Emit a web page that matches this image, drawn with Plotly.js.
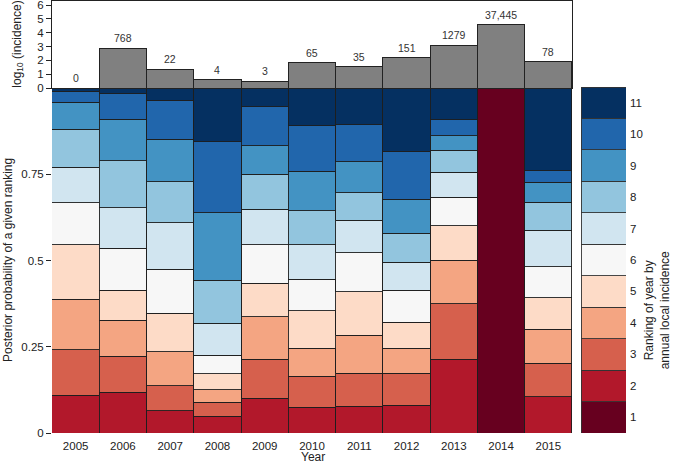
<!DOCTYPE html>
<html>
<head>
<meta charset="utf-8">
<script src="https://cdn.plot.ly/plotly-3.0.1.min.js"></script>
<style>html,body{margin:0;padding:0;background:#fff;}#chart{width:677px;height:464px;}</style>
</head>
<body>
<div id="chart"></div>
<script>
const years = ['2005','2006','2007','2008','2009','2010','2011','2012','2013','2014','2015'];
const incidence = [0, 768, 22, 4, 3, 65, 35, 151, 1279, 37445, 78];
const incidenceLabels = ['0','768','22','4','3','65','35','151','1279','37,445','78'];
const ranks = [1,2,3,4,5,6,7,8,9,10,11];
const rankColors = ['#67001f','#b2182b','#d6604d','#f4a582','#fddbc7','#f7f7f7','#d1e5f0','#92c5de','#4393c3','#2166ac','#053061'];

// posterior probability of each ranking, per year (2005..2015)
const rank1  = [0, 0, 0, 0, 0, 0, 0, 0, 0, 1, 0];
const rank2  = [0.110, 0.118, 0.065, 0.049, 0.101, 0.074, 0.078, 0.081, 0.214, 0, 0.105];
const rank3  = [0.131, 0.105, 0.072, 0.040, 0.113, 0.090, 0.095, 0.092, 0.161, 0, 0.097];
const rank4  = [0.147, 0.104, 0.098, 0.037, 0.123, 0.081, 0.111, 0.072, 0.126, 0, 0.099];
const rank5  = [0.157, 0.087, 0.112, 0.046, 0.097, 0.110, 0.125, 0.076, 0.100, 0, 0.091];
const rank6  = [0.122, 0.121, 0.128, 0.054, 0.111, 0.091, 0.114, 0.093, 0.082, 0, 0.090];
const rank7  = [0.104, 0.118, 0.134, 0.092, 0.104, 0.099, 0.094, 0.081, 0.073, 0, 0.106];
const rank8  = [0.110, 0.136, 0.119, 0.125, 0.101, 0.099, 0.079, 0.084, 0.064, 0, 0.081];
const rank9  = [0.078, 0.120, 0.124, 0.196, 0.082, 0.115, 0.090, 0.098, 0.042, 0, 0.058];
const rank10 = [0.032, 0.074, 0.112, 0.205, 0.114, 0.132, 0.108, 0.140, 0.046, 0, 0.033];
const rank11 = [0.009, 0.017, 0.036, 0.156, 0.054, 0.109, 0.106, 0.183, 0.092, 0, 0.240];
const rankProbs = [rank1, rank2, rank3, rank4, rank5, rank6, rank7, rank8, rank9, rank10, rank11];

const logIncidence = incidence.map(v => v > 0 ? Math.log10(v) : 0);

const traces = [];
rankProbs.forEach((vals, i) => {
  traces.push({
    type: 'bar', x: years, y: vals, xaxis: 'x', yaxis: 'y',
    marker: {color: rankColors[i], line: {color: '#1e1e1e', width: 0.9}},
    hoverinfo: 'skip', name: 'Rank ' + ranks[i]
  });
});
traces.push({
  type: 'bar', x: years, y: logIncidence, xaxis: 'x2', yaxis: 'y2',
  marker: {color: '#808080', line: {color: '#222', width: 1}},
  hoverinfo: 'skip'
});
ranks.forEach((r, i) => {
  traces.push({
    type: 'bar', x: ['key'], y: [1], xaxis: 'x3', yaxis: 'y3',
    marker: {color: rankColors[i], line: {color: '#333', width: 0.9}},
    hoverinfo: 'skip'
  });
});

const fontFam = 'Liberation Sans, Arial, sans-serif';
const annotations = years.map((yr, i) => ({
  text: incidenceLabels[i], xref: 'x2', yref: 'y2', x: i, y: logIncidence[i],
  yanchor: 'bottom', xanchor: 'center', yshift: 2, showarrow: false,
  font: {size: 10.5, color: '#333'}
}));
annotations.push(
  {text: 'Year', xref: 'paper', yref: 'paper', x: 0.462, y: 0.016, showarrow: false,
   font: {size: 12}, xanchor: 'center', yanchor: 'middle'},
  {text: 'Posterior probability of a given ranking', xref: 'paper', yref: 'paper',
   x: 0.012, y: 0.44, textangle: -90, showarrow: false, font: {size: 12},
   xanchor: 'center', yanchor: 'middle'},
  {text: 'log<sub>10</sub> (incidence)', xref: 'paper', yref: 'paper',
   x: 0.026, y: 0.905, textangle: -90, showarrow: false, font: {size: 12},
   xanchor: 'center', yanchor: 'middle'},
  {text: 'Ranking of year by<br>annual local incidence', xref: 'paper', yref: 'paper',
   x: 0.971, y: 0.332, textangle: -90, showarrow: false, font: {size: 12},
   xanchor: 'center', yanchor: 'middle'}
);

const layout = {
  width: 677, height: 464,
  margin: {l: 0, r: 0, t: 0, b: 0},
  paper_bgcolor: '#fff', plot_bgcolor: 'rgba(0,0,0,0)',
  showlegend: false, barmode: 'stack', bargap: 0,
  font: {family: fontFam, size: 11, color: '#222'},
  xaxis: {domain: [0.0768, 0.8449], anchor: 'y', type: 'category', range: [-0.5, 10.5],
          ticks: '', showline: false, showgrid: false, zeroline: false, automargin: false,
          ticklabelstandoff: 4, tickfont: {size: 11.5, color: '#222'}},
  yaxis: {domain: [0.0668, 0.8103], anchor: 'x', range: [0, 1],
          tickvals: [0, 0.25, 0.5, 0.75], ticktext: ['0', '0.25', '0.5', '0.75'],
          ticks: 'outside', ticklen: 5, tickcolor: '#222', showline: false,
          showgrid: false, zeroline: false, automargin: false, tickfont: {size: 11.5}},
  xaxis2: {domain: [0.0768, 0.8449], anchor: 'y2', type: 'category', range: [-0.5, 10.5],
           showticklabels: false, ticks: '', showline: true, mirror: true, linecolor: '#222',
           linewidth: 1, showgrid: false, zeroline: false, automargin: false},
  yaxis2: {domain: [0.8103, 0.998], anchor: 'x2', range: [0, 6.3],
           tickvals: [0, 1, 2, 3, 4, 5, 6], ticks: 'outside', ticklen: 5, tickcolor: '#222',
           showline: true, mirror: true, linecolor: '#222', linewidth: 1,
           ticklabeloverflow: 'allow',
           showgrid: false, zeroline: false, automargin: false, tickfont: {size: 11.5}},
  xaxis3: {domain: [0.8582, 0.9247], anchor: 'y3', range: [-0.5, 0.5], visible: false},
  yaxis3: {domain: [0.0668, 0.8125], anchor: 'x3', side: 'right', range: [0, 11],
           tickvals: ranks.map((r, i) => i + 0.5), ticktext: ranks.map(String),
           ticks: '', showline: false, showgrid: false, zeroline: false, automargin: false,
           ticklabelstandoff: 3, tickfont: {size: 11.5}},
  annotations: annotations
};

Plotly.newPlot('chart', traces, layout, {staticPlot: true, displayModeBar: false});
</script>
</body>
</html>
